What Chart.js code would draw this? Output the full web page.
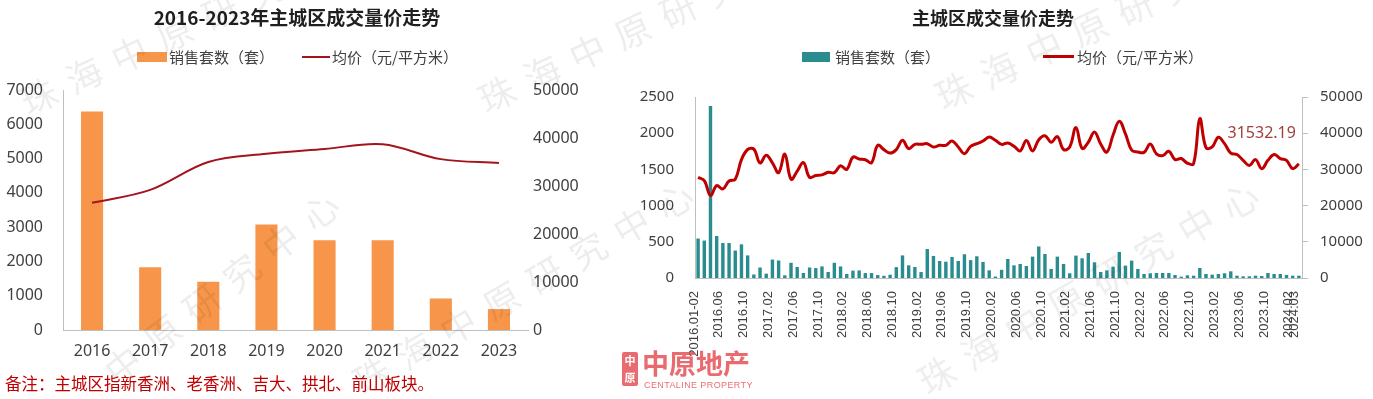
<!DOCTYPE html>
<html lang="zh-CN">
<head>
<meta charset="utf-8">
<title>主城区成交量价走势</title>
<script src="https://cdn.jsdelivr.net/npm/chart.js@4.4.1/dist/chart.umd.min.js"></script>
<style>
  html, body { margin: 0; padding: 0; background: #fff; }
  body { width: 1373px; height: 399px; position: relative; overflow: hidden;
         font-family: "Noto Sans CJK SC", "Noto Sans", sans-serif; }
  canvas { position: absolute; top: 0; }
  #leftChart { left: 0; }
  #rightChart { left: 600px; }
  .title { position: absolute; font-weight: bold; color: #1f1f1f; white-space: nowrap;
           line-height: 24px; transform: translateX(-50%); }
  .legText { position: absolute; top: 47px; line-height: 20px; font-size: 15px; color: #404040; white-space: nowrap; }
  .swatch { position: absolute; }
  .note { position: absolute; left: 5px; top: 373px; font-size: 16.5px; line-height: 20px; color: #C00000; white-space: nowrap; }
  .logo { position: absolute; left: 620px; top: 347px; opacity: 0.8; }
  .logo .icon { position: absolute; left: 2px; top: 5px; width: 16px; height: 34px; background: #E5474B;
                border-radius: 2px; color: #fff; font-size: 11px; line-height: 17px; text-align: center; font-weight: bold; }
  .logo .name { position: absolute; left: 22px; top: 0; font-size: 27px; line-height: 32px; font-weight: bold;
                color: #E5474B; white-space: nowrap; }
  .logo .en { position: absolute; left: 24px; top: 33px; font-family: "Liberation Sans", sans-serif; font-size: 9px;
              line-height: 10px; color: #E5474B; white-space: nowrap; letter-spacing: 0.4px; }
  .wm { position: absolute; font-size: 36px; line-height: 40px; color: rgba(0, 0, 0, 0.07); white-space: nowrap;
        letter-spacing: 14px; transform-origin: 0 100%; pointer-events: none; }
</style>
</head>
<body>
<canvas id="leftChart" width="590" height="372"></canvas>
<canvas id="rightChart" width="773" height="399"></canvas>

<div class="title" style="left:297px; top:5px; font-size:19px;">2016-2023年主城区成交量价走势</div>
<div class="title" style="left:993px; top:5px; font-size:18px;">主城区成交量价走势</div>

<div class="swatch" style="left:137px; top:52px; width:30px; height:10px; background:#F7964A;"></div>
<div class="legText" style="left:169px;">销售套数（套）</div>
<div class="swatch" style="left:302px; top:56px; width:28px; height:2px; background:#A3141C;"></div>
<div class="legText" style="left:332px;">均价（元/平方米）</div>

<div class="swatch" style="left:802px; top:52px; width:28px; height:10px; background:#2A8C8E;"></div>
<div class="legText" style="left:835px;">销售套数（套）</div>
<div class="swatch" style="left:1043px; top:55px; width:31px; height:3px; background:#C00000;"></div>
<div class="legText" style="left:1077px;">均价（元/平方米）</div>

<div class="note">备注：主城区指新香洲、老香洲、吉大、拱北、前山板块。</div>

<div class="logo">
  <div class="icon">中<br>原</div>
  <div class="name">中原地产</div>
  <div class="en">CENTALINE PROPERTY</div>
</div>

<div class="wm" style="left:30px; top:80px; transform:rotate(-25deg);">珠海中原研究中心</div>
<div class="wm" style="left:488px; top:78px; transform:rotate(-25deg);">珠海中原研究中心</div>
<div class="wm" style="left:945px; top:75px; transform:rotate(-25deg);">珠海中原研究中心</div>
<div class="wm" style="left:120px; top:350px; transform:rotate(-38deg);">中原研究中心</div>
<div class="wm" style="left:365px; top:360px; transform:rotate(-30deg);">珠海中原研究中心</div>
<div class="wm" style="left:930px; top:360px; transform:rotate(-30deg);">珠海中原研究中心</div>

<script>
"use strict";

// 2016-2023 yearly
const yearLabels = ["2016", "2017", "2018", "2019", "2020", "2021", "2022", "2023"];
const yearSales = [6370, 1830, 1410, 3080, 2620, 2620, 920, 610];
const yearPrice = [26500, 29200, 35000, 36700, 37700, 38700, 35600, 34800];

// monthly, 2016.01-02 .. 2024.03
const monthLabels = [
    "2016.01-02", "2016.03", "2016.04", "2016.05", "2016.06", "2016.07", "2016.08", "2016.09", "2016.10", "2016.11", "2016.12",
    "2017.01", "2017.02", "2017.03", "2017.04", "2017.05", "2017.06", "2017.07", "2017.08", "2017.09", "2017.10", "2017.11", "2017.12",
    "2018.01", "2018.02", "2018.03", "2018.04", "2018.05", "2018.06", "2018.07", "2018.08", "2018.09", "2018.10", "2018.11", "2018.12",
    "2019.01", "2019.02", "2019.03", "2019.04", "2019.05", "2019.06", "2019.07", "2019.08", "2019.09", "2019.10", "2019.11", "2019.12",
    "2020.01", "2020.02", "2020.03", "2020.04", "2020.05", "2020.06", "2020.07", "2020.08", "2020.09", "2020.10", "2020.11", "2020.12",
    "2021.01", "2021.02", "2021.03", "2021.04", "2021.05", "2021.06", "2021.07", "2021.08", "2021.09", "2021.10", "2021.11", "2021.12",
    "2022.01", "2022.02", "2022.03", "2022.04", "2022.05", "2022.06", "2022.07", "2022.08", "2022.09", "2022.10", "2022.11", "2022.12",
    "2023.01", "2023.02", "2023.03", "2023.04", "2023.05", "2023.06", "2023.07", "2023.08", "2023.09", "2023.10", "2023.11", "2023.12",
    "2024.01", "2024.02", "2024.03"
];
const monthSales = [
    545, 517, 2375, 580, 483, 483, 379, 465, 312, 48,
    145, 60, 255, 242, 37, 210, 152, 70, 145, 137,
    160, 83, 210, 160, 55, 102, 105, 68, 68, 40,
    30, 45, 150, 312, 175, 152, 82, 400, 305, 235,
    225, 290, 235, 328, 247, 300, 222, 106, 20, 113,
    263, 175, 194, 166, 295, 436, 332, 125, 295, 194,
    65, 309, 272, 346, 217, 83, 106, 157, 360, 171,
    240, 125, 55, 65, 69, 69, 69, 42, 18, 37,
    32, 138, 55, 46, 55, 65, 92, 32, 23, 23,
    32, 28, 69, 55, 55, 42, 32, 32
];
const monthPrice = [
    27800, 26900, 22800, 25500, 24600, 26800, 27300, 32700, 35500, 35600,
    31800, 33900, 31800, 29100, 34200, 27300, 29500, 31900, 27800, 28300,
    28500, 29200, 29100, 31000, 30000, 33400, 32850, 32660, 31850, 36650,
    35460, 34510, 35460, 38030, 35740, 36920, 36920, 37100, 36180, 36650,
    36650, 37840, 36180, 34350, 36370, 37100, 37840, 38950, 38030, 36920,
    37300, 36400, 35100, 38000, 35100, 38200, 39300, 37500, 39100, 35500,
    36200, 41600, 35800, 37500, 40300, 37000, 34800, 39500, 43300, 39800,
    35300, 34800, 34700, 37000, 34300, 33800, 35000, 32700, 33000, 31700,
    31600, 44000, 36000, 36200, 38900, 37100, 34500, 34100, 32500, 31100,
    32700, 30200, 32500, 34100, 33000, 32500, 30200, 31532.19
];

const AXIS_GREY = "#BFBFBF";
const TICK_COLOR = "#404040";

function fixWidth(w) {
    return scale => { scale.width = w; };
}

function fixHeight(h) {
    return scale => { scale.height = h; };
}

const plain = v => String(v);

// label on the last price point
const lastLabel = {
    id: "lastLabel",
    afterDatasetsDraw(chart) {
        const meta = chart.getDatasetMeta(1);
        const pt = meta.data[meta.data.length - 1];
        const value = monthPrice[monthPrice.length - 1];
        const ctx = chart.ctx;
        ctx.save();
        ctx.font = "16px 'Noto Sans'";
        ctx.fillStyle = "#A0403C";
        ctx.textAlign = "right";
        ctx.textBaseline = "middle";
        ctx.fillText(value.toFixed(2), pt.x - 3, pt.y - 30);
        ctx.restore();
    }
};

new Chart(document.getElementById("leftChart"), {
    type: "bar",
    data: {
        labels: yearLabels,
        datasets: [
            {
                type: "bar", label: "销售套数（套）", data: yearSales, yAxisID: "y",
                backgroundColor: "#F7964A", barPercentage: 0.38, categoryPercentage: 1, order: 2
            },
            {
                type: "line", label: "均价（元/平方米）", data: yearPrice, yAxisID: "y1",
                borderColor: "#A3141C", borderWidth: 2, pointRadius: 0, tension: 0.35, fill: false, order: 1
            }
        ]
    },
    options: {
        responsive: false,
        animation: false,
        devicePixelRatio: 1,
        layout: { padding: { top: 90, left: 0, right: 0, bottom: 0 } },
        plugins: { legend: { display: false }, title: { display: false }, tooltip: { enabled: false } },
        scales: {
            x: {
                grid: { display: false, drawTicks: false, tickLength: 0 },
                border: { display: true, color: AXIS_GREY },
                ticks: { font: { family: "Noto Sans", size: 16 }, color: TICK_COLOR, padding: 12, maxRotation: 0 },
                afterFit: fixHeight(42)
            },
            y: {
                position: "left", min: 0, max: 7000,
                grid: { display: false, drawTicks: false, tickLength: 0 },
                border: { display: true, color: AXIS_GREY },
                ticks: { stepSize: 1000, callback: plain, font: { family: "Noto Sans", size: 16 }, color: TICK_COLOR, padding: 20 },
                afterFit: fixWidth(63)
            },
            y1: {
                position: "right", min: 0, max: 50000,
                grid: { display: false, drawTicks: false, tickLength: 0 },
                border: { display: false },
                ticks: { stepSize: 10000, callback: plain, font: { family: "Noto Sans", size: 16 }, color: TICK_COLOR, padding: 5 },
                afterFit: fixWidth(62)
            }
        }
    }
});

new Chart(document.getElementById("rightChart"), {
    type: "bar",
    data: {
        labels: monthLabels,
        datasets: [
            {
                type: "bar", label: "销售套数 (套)", data: monthSales, yAxisID: "y",
                backgroundColor: "#2A8C8E", barPercentage: 0.55, categoryPercentage: 1, order: 2
            },
            {
                type: "line", label: "均价 (元/平方米)", data: monthPrice, yAxisID: "y1",
                borderColor: "#C00000", borderWidth: 3, pointRadius: 0, tension: 0.4, fill: false, order: 1
            }
        ]
    },
    options: {
        responsive: false,
        animation: false,
        devicePixelRatio: 1,
        layout: { padding: { top: 97, left: 0, right: 0, bottom: 0 } },
        plugins: { legend: { display: false }, title: { display: false }, tooltip: { enabled: false } },
        scales: {
            x: {
                grid: { display: false, drawTicks: false, tickLength: 0 },
                border: { display: true, color: AXIS_GREY },
                ticks: {
                    autoSkip: false, minRotation: 90, maxRotation: 90, padding: 13, labelOffset: -4,
                    font: { family: "Liberation Sans", size: 13 }, color: TICK_COLOR,
                    callback: (v, i) => (i % 4 === 0 || i === monthLabels.length - 1) ? monthLabels[i] : ""
                },
                afterFit: fixHeight(121)
            },
            y: {
                position: "left", min: 0, max: 2500,
                grid: { display: false, drawTicks: false, tickLength: 0 },
                border: { display: true, color: AXIS_GREY },
                ticks: { stepSize: 500, callback: plain, font: { family: "Noto Sans", size: 15 }, color: TICK_COLOR, padding: 21 },
                afterFit: fixWidth(95)
            },
            y1: {
                position: "right", min: 0, max: 50000,
                grid: { display: true, drawOnChartArea: false, drawTicks: true, tickLength: 6, color: AXIS_GREY },
                border: { display: true, color: AXIS_GREY },
                ticks: { stepSize: 10000, callback: plain, font: { family: "Noto Sans", size: 15 }, color: TICK_COLOR, padding: 12 },
                afterFit: fixWidth(71)
            }
        }
    },
    plugins: [lastLabel]
});
</script>
</body>
</html>
